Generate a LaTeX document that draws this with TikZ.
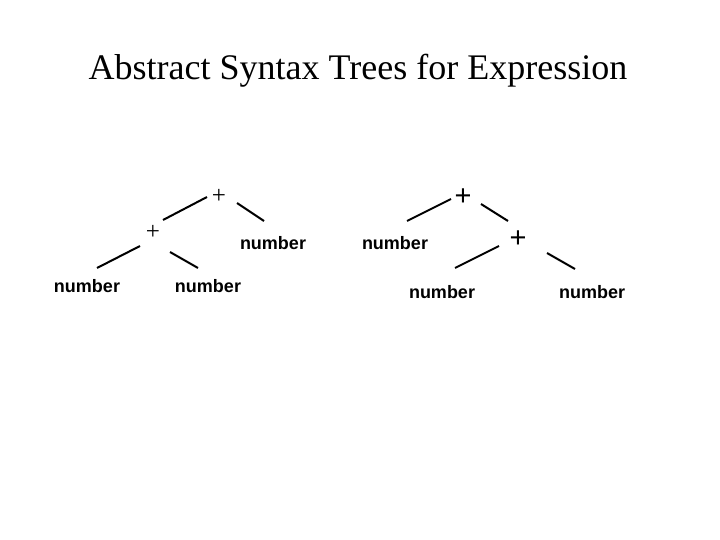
\documentclass[tikz,border=0pt]{standalone}
\usepackage{fontspec}
\setmainfont{Liberation Serif}
\setsansfont{Liberation Sans}
\usepackage{tikz}
\usetikzlibrary{positioning,calc}

\tikzset{
  leaf/.style={font=\sffamily\bfseries\fontsize{18}{18}\selectfont, inner sep=0pt},
  opthin/.style={font=\rmfamily\fontsize{25}{25}\selectfont, inner sep=0pt},
  opsans/.style={font=\sffamily\fontsize{29}{29}\selectfont, inner sep=0pt},
  edge/.style={line width=2pt}
}

\begin{document}
\begin{tikzpicture}[x=1pt, y=-1pt]
\useasboundingbox[fill=white] (0,0) rectangle (720,540);

% Title
\node[font=\rmfamily\fontsize{36}{36}\selectfont] (title) at (358,70.5) {Abstract Syntax Trees for Expression};

% Left tree
\node[opthin] (lp1) at (219,196) {+};
\node[opthin] (lp2) at (153,232) {+};
\node[leaf] (ln1) at (273,243) {number};
\node[leaf] (ln2) at (87,286) {number};
\node[leaf] (ln3) at (208,286) {number};

% Right tree
\node[opsans] (rp1) at (463,197) {+};
\node[leaf] (rn1) at (395,243) {number};
\node[opsans] (rp2) at (518,239) {+};
\node[leaf] (rn2) at (442,292) {number};
\node[leaf] (rn3) at (592,292) {number};

% Edges
\draw[edge] ([shift={(-12,1)}]lp1.center) -- ([shift={(10,-12)}]lp2.center);
\draw[edge] ([shift={(18,7)}]lp1.center) -- ([shift={(-9,-22)}]ln1.center);
\draw[edge] ([shift={(-13,14)}]lp2.center) -- ([shift={(10,-18)}]ln2.center);
\draw[edge] ([shift={(17,20)}]lp2.center) -- ([shift={(-10,-18)}]ln3.center);

\draw[edge] ([shift={(-12,2)}]rp1.center) -- ([shift={(12,-22)}]rn1.center);
\draw[edge] ([shift={(18,7)}]rp1.center) -- ([shift={(-10,-18)}]rp2.center);
\draw[edge] ([shift={(-19,7)}]rp2.center) -- ([shift={(13,-24)}]rn2.center);
\draw[edge] ([shift={(29,14)}]rp2.center) -- ([shift={(-17,-23)}]rn3.center);

\end{tikzpicture}
\end{document}
